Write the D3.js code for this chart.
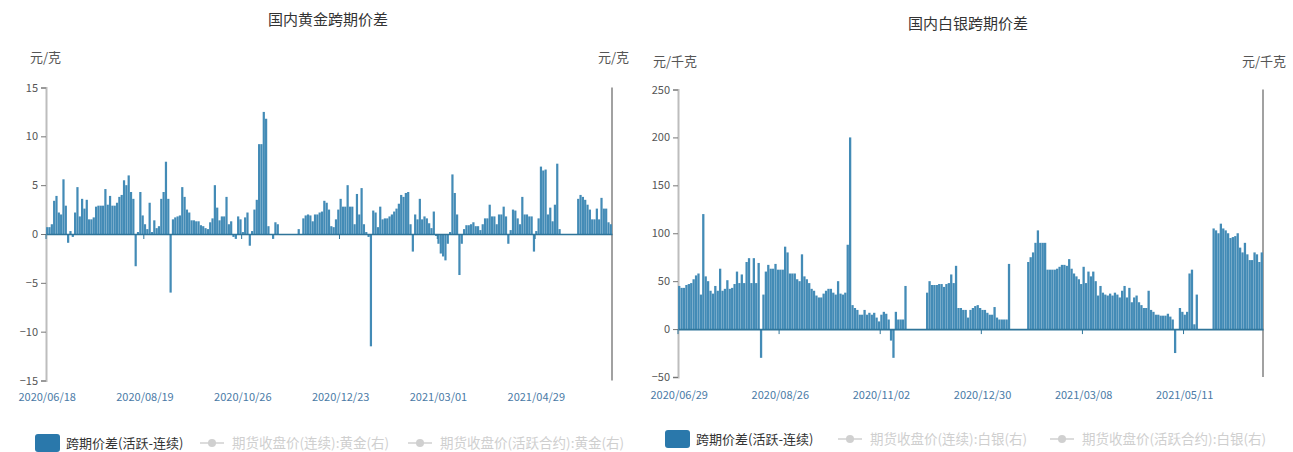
<!DOCTYPE html>
<html><head><meta charset="utf-8">
<script src="https://cdn.jsdelivr.net/npm/d3@7/dist/d3.min.js"></script>
<style>
body{margin:0;background:#fff}
svg{display:block}
text{font-family:"Microsoft YaHei","Noto Sans CJK SC",sans-serif}
</style>
</head><body>
<svg id="c" width="1293" height="452"></svg>
<script>
// ---------- DATA ----------
const holidays = ["2020-06-25","2020-06-26","2020-10-01","2020-10-02","2020-10-05","2020-10-06","2020-10-07","2020-10-08",
  "2021-01-01","2021-02-11","2021-02-12","2021-02-15","2021-02-16","2021-02-17","2021-04-05","2021-05-03","2021-05-04","2021-05-05","2021-06-14"];

const goldValues = [
 0.7,0.7,1.0,3.4,3.9,2.2,2.0,5.6,2.9,-0.9,
 0.3,-0.3,2.2,4.8,1.8,3.6,2.6,3.5,1.5,1.5,
 1.7,2.8,2.9,2.9,2.9,4.6,3.0,3.9,2.9,2.9,
 3.2,3.8,4.0,5.5,5.0,6.0,4.3,3.6,-3.3,0.2,
 4.3,1.9,1.0,0.5,3.2,0.2,1.4,0.6,0.8,3.6,
 4.3,7.4,3.6,-6.0,1.5,1.7,1.8,1.9,4.8,3.8,
 2.5,2.2,1.4,1.4,1.3,1.3,0.9,0.8,0.6,0.5,
 1.2,1.6,5.0,2.7,1.4,1.8,1.8,3.8,1.0,1.3,
 -0.3,-0.5,1.8,1.5,0.2,1.7,2.2,-1.2,0.3,2.5,
 3.5,9.2,9.2,12.5,11.8,0.8,0,-0.5,1.2,1.0,
 0,0,0,0,0,0,0,0,0.5,0,
 1.6,1.9,2.0,1.9,1.3,2.0,2.0,2.2,2.3,3.4,
 3.2,2.5,0.8,0.7,1.5,2.5,3.6,2.8,2.8,5.0,
 2.8,2.8,1.0,4.1,2.0,4.7,1.0,0.2,-0.3,-11.5,
 2.4,2.2,0.7,2.8,1.5,1.6,1.6,1.8,2.0,2.3,
 2.6,3.1,4.0,3.8,4.2,4.3,1.0,-1.8,2.0,1.5,
 3.6,1.5,1.8,1.6,1.1,0.6,2.3,-0.2,-1.0,-2.0,
 -2.3,-2.7,-1.0,0.2,6.1,4.2,2.0,-4.2,-1.0,0.5,
 0.9,0.9,1.0,1.2,0.8,0.8,0.4,1.0,1.6,1.6,
 3.0,1.8,1.8,1.0,2.0,2.0,2.8,1.8,-1.0,0.4,
 2.5,2.4,1.6,1.0,3.8,2.0,2.0,1.8,1.8,-1.8,
 0.3,1.6,6.9,6.5,6.6,2.0,2.7,1.3,3.0,7.2,
 0.5,0,0,0,0,0,0,0,3.6,4.0,
 3.8,3.5,3.0,2.5,1.5,1.5,2.6,1.5,3.7,2.6,
 2.6,1.2,1.0];

const silverValues = [
 45,43,43,46,47,48,52,56,58,36,
 120,55,50,40,37,45,40,63,40,42,
 51,42,43,47,60,48,57,48,70,74,
 48,74,48,69,-30,36,60,67,63,63,
 68,62,62,62,86,80,58,58,58,52,
 50,78,55,52,48,42,40,35,33,33,
 37,40,42,42,38,36,50,37,36,38,
 88,200,25,22,20,15,15,20,15,17,
 15,17,12,8,15,18,16,10,-12,-30,
 18,10,10,10,45,0,0,0,0,0,
 0,0,0,38,50,46,46,46,47,47,
 44,47,48,57,48,66,22,22,20,20,
 12,20,22,24,25,22,20,20,17,15,
 15,23,12,10,10,10,10,68,0,0,
 0,0,0,0,0,70,75,80,90,103,
 90,90,90,62,62,62,62,63,65,67,
 67,66,73,63,58,55,52,47,65,48,
 60,55,60,50,35,45,38,36,35,37,
 35,38,36,33,40,45,33,43,28,33,
 35,28,25,22,22,40,20,18,15,15,
 14,14,14,16,13,10,-25,0,22,18,
 15,18,58,62,5,36,0,0,0,0,
 0,0,105,103,100,110,105,103,100,95,
 96,97,100,85,80,90,78,72,72,80,
 78,70,80];

const goldTickLabels = ["2020/06/18","2020/08/19","2020/10/26","2020/12/23","2021/03/01","2021/04/29"];
const silverTickLabels = ["2020/06/29","2020/08/26","2020/11/02","2020/12/30","2021/03/08","2021/05/11"];
const goldYTicks = [15,10,5,0,-5,-10,-15];
const silverYTicks = [250,200,150,100,50,0,-50];

// trading-day categories (weekdays minus exchange holidays)
function tradingDays(start, n){
  const out=[]; const d=new Date(start+"T00:00:00Z");
  while(out.length<n){
    const iso=d.toISOString().slice(0,10); const wd=d.getUTCDay();
    if(wd!==0 && wd!==6 && !holidays.includes(iso)) out.push(iso.replace(/-/g,"/"));
    d.setUTCDate(d.getUTCDate()+1);
  }
  return out;
}
const goldDates = tradingDays("2020-06-18", goldValues.length);
const silverDates = tradingDays("2020-06-29", silverValues.length);

// ---------- DRAW ----------
const svg = d3.select("#c");
const BAR = "#438bb6", ZERO = "#2f7499", LABEL="#555", XLAB="#4a7aa6";

function drawChart(o){
  const g = svg.append("g");
  const x = d3.scaleBand().domain(o.dates).range([o.x0,o.x1]).paddingInner(0.05).paddingOuter(0.03);
  const y = d3.scaleLinear().domain(o.domain).range([o.yBottom,o.yTop]);
  const data = o.dates.map((d,i)=>({d, v:o.values[i]}));

  g.append("text").attr("x",o.titleX).attr("y",o.titleY).attr("text-anchor","middle")
    .attr("font-size",15).attr("fill","#333").text(o.title);
  g.append("text").attr("x",o.unitLX).attr("y",o.unitY).attr("font-size",13).attr("fill",LABEL).text(o.unit);
  g.append("text").attr("x",o.unitRX).attr("y",o.unitY).attr("text-anchor","end").attr("font-size",13).attr("fill",LABEL).text(o.unit);

  const ya = g.append("g").attr("transform",`translate(${o.x0},0)`)
    .call(d3.axisLeft(y).tickValues(o.yTicks).tickSize(5).tickPadding(3).tickFormat(d3.format("d")));
  ya.select(".domain").attr("stroke","#bdbdbd").attr("stroke-width",2);
  ya.selectAll(".tick line").attr("stroke","#777");
  ya.selectAll(".tick text").attr("fill",LABEL).attr("font-size",11)
    .attr("font-family","'Microsoft YaHei','Noto Sans CJK SC',sans-serif");

  g.append("line").attr("x1",o.x1).attr("x2",o.x1).attr("y1",o.yTop).attr("y2",o.yBottom)
    .attr("stroke","#8a8a8a").attr("stroke-width",1.6);

  g.append("g").selectAll("rect").data(data).join("rect")
    .attr("x",d=>x(d.d)).attr("width",x.bandwidth())
    .attr("y",d=>Math.min(y(d.v),y(0))).attr("height",d=>Math.abs(y(d.v)-y(0)))
    .attr("fill",BAR);

  const step = x.step();
  const xa = g.append("g").attr("transform",`translate(0,${y(0)})`)
    .call(d3.axisBottom(x).tickValues(o.dates.filter(d=>o.tickLabels.includes(d))).tickSize(0).tickFormat(""));
  xa.select(".domain").attr("stroke",ZERO).attr("stroke-width",1.6);
  xa.selectAll(".tick line").remove();
  o.tickLabels.forEach(lbl=>{
    g.append("line").attr("x1",x(lbl)-step*0.03).attr("x2",x(lbl)-step*0.03)
      .attr("y1",y(0)).attr("y2",y(0)+5).attr("stroke",ZERO).attr("stroke-width",1);
  });

  g.append("g").selectAll("text").data(o.tickLabels).join("text")
    .attr("x",d=>x(d)+x.bandwidth()/2).attr("y",o.xLabY).attr("text-anchor","middle")
    .attr("font-size",11).attr("fill",XLAB).text(d=>d);

  const L = o.legend;
  g.append("rect").attr("x",L.x).attr("y",L.y-9).attr("width",25).attr("height",18).attr("rx",3).attr("fill","#2a78ab");
  g.append("text").attr("x",L.x+31).attr("y",L.y+4.5).attr("font-size",13).attr("fill","#333").text("跨期价差(活跃-连续)");
  L.greys.forEach(it=>{
    g.append("line").attr("x1",it.x).attr("x2",it.x+24).attr("y1",L.y).attr("y2",L.y).attr("stroke","#d0d0d0").attr("stroke-width",1.5);
    g.append("circle").attr("cx",it.x+12).attr("cy",L.y).attr("r",4).attr("fill","#d0d0d0");
    g.append("text").attr("x",it.x+32).attr("y",L.y+4.5).attr("font-size",13.5).attr("fill","#cfcfcf").text(it.text);
  });
}

drawChart({
  title:"国内黄金跨期价差", titleX:328, titleY:25,
  unit:"元/克", unitLX:30, unitRX:629, unitY:62,
  x0:46, x1:612, yTop:87.5, yBottom:380.5, domain:[-15,15], yTicks:goldYTicks,
  dates:goldDates, values:goldValues, tickLabels:goldTickLabels, xLabY:401,
  legend:{x:35, y:443, greys:[{x:200,text:"期货收盘价(连续):黄金(右)"},{x:408,text:"期货收盘价(活跃合约):黄金(右)"}]}
});
drawChart({
  title:"国内白银跨期价差", titleX:968, titleY:29,
  unit:"元/千克", unitLX:653, unitRX:1286, unitY:66,
  x0:678, x1:1263, yTop:89.5, yBottom:377, domain:[-50,250], yTicks:silverYTicks,
  dates:silverDates, values:silverValues, tickLabels:silverTickLabels, xLabY:399,
  legend:{x:665, y:439, greys:[{x:838,text:"期货收盘价(连续):白银(右)"},{x:1050,text:"期货收盘价(活跃合约):白银(右)"}]}
});
</script>
</body></html>
